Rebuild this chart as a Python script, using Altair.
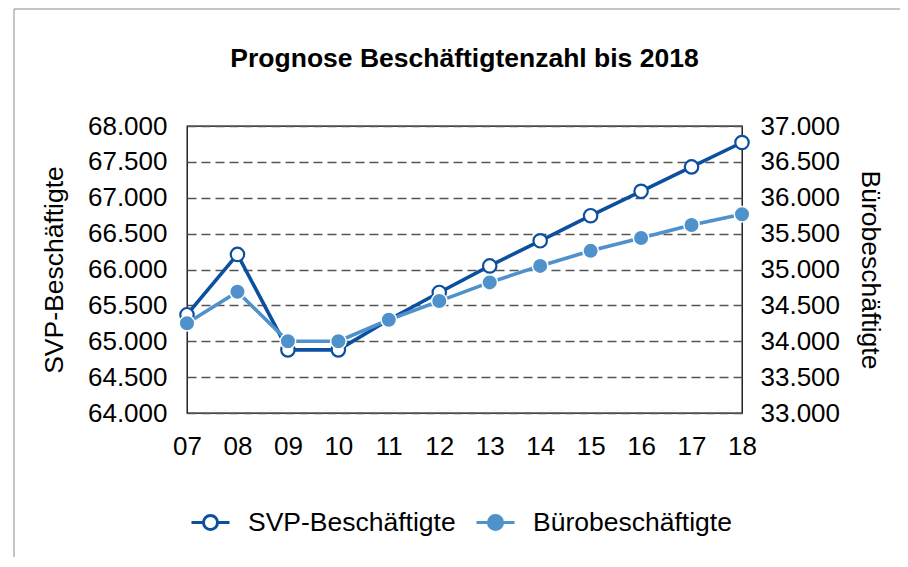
import altair as alt
import pandas as pd

years = ["07", "08", "09", "10", "11", "12", "13", "14", "15", "16", "17", "18"]
svp = [65370, 66210, 64880, 64880, 65300, 65680, 66050, 66400, 66750, 67090, 67430, 67770]
buero = [34250, 34690, 34000, 34000, 34300, 34560, 34820, 35050, 35260, 35440, 35620, 35770]
series_names = ["SVP-Beschäftigte", "Bürobeschäftigte"]

DARK = "#0B4F9E"
LIGHT = "#4F91CB"
FONT = "Liberation Sans"

df_svp = pd.DataFrame({"Jahr": years, "Wert": svp, "Reihe": series_names[0]})
df_buero = pd.DataFrame({"Jahr": years, "Wert": buero, "Reihe": series_names[1]})

lbl = "replace(format(datum.value, ',.0f'), ',', '.')"

x_enc = alt.X("Jahr:N", sort=years, scale=alt.Scale(type="point", padding=0),
              axis=alt.Axis(title=None, labelAngle=0, ticks=False, domain=False,
                            labelPadding=20, labelFontSize=26, grid=False))

y_left = alt.Y("Wert:Q", scale=alt.Scale(domain=[64000, 68000], nice=False, zero=False),
               axis=alt.Axis(title="SVP-Beschäftigte", orient="left", values=list(range(64000, 68001, 500)),
                             labelExpr=lbl, ticks=False, domain=False, labelPadding=20,
                             labelFontSize=26, titleFontSize=26.5, titleFontWeight="normal",
                             titlePadding=19, grid=True, gridDash=[9, 5], gridColor="#555555",
                             gridWidth=1.3))
y_right = alt.Y("Wert:Q", scale=alt.Scale(domain=[33000, 37000], nice=False, zero=False),
                axis=alt.Axis(title="Bürobeschäftigte", orient="right", values=list(range(33000, 37001, 500)),
                              labelExpr=lbl, ticks=False, domain=False, labelPadding=18,
                              labelFontSize=26, titleFontSize=26.5, titleFontWeight="normal",
                              titlePadding=16, grid=False))

stroke_scale = alt.Scale(domain=series_names, range=[DARK, LIGHT])
fill_scale = alt.Scale(domain=series_names, range=["white", LIGHT])

legend = alt.Legend(title=None, orient="none", legendX=3, legendY=376, direction="horizontal",
                    symbolType="M-1,0L-0.37,0M0.37,0L1,0M0.37,0A0.37,0.37,0,1,1,-0.37,0A0.37,0.37,0,1,1,0.37,0Z",
                    symbolSize=1444, symbolStrokeWidth=3, labelFontSize=26.5, labelOffset=17,
                    columnPadding=14, labelLimit=400, labelFont=FONT)

svp_line = alt.Chart(df_svp).mark_line(color=DARK, strokeWidth=3.6).encode(x=x_enc, y=y_left)
svp_pts = alt.Chart(df_svp).mark_point(shape="circle", size=180, strokeWidth=2.2, opacity=1).encode(
    x=x_enc, y=y_left,
    stroke=alt.Stroke("Reihe:N", scale=stroke_scale, legend=legend),
    fill=alt.Fill("Reihe:N", scale=fill_scale, legend=legend),
)
left = alt.layer(svp_line, svp_pts)

b_line = alt.Chart(df_buero).mark_line(color=LIGHT, strokeWidth=3.6).encode(x=x_enc, y=y_right)
b_pts = alt.Chart(df_buero).mark_point(shape="circle", size=240, strokeWidth=1.5, stroke="white", opacity=1).encode(
    x=x_enc, y=y_right,
    fill=alt.Fill("Reihe:N", scale=fill_scale, legend=legend),
)
right = alt.layer(b_line, b_pts)

frame = alt.Chart(pd.DataFrame({"a": [0]})).mark_rect(fill=None, stroke="#8a8a8a", strokeWidth=1, clip=False).encode(
    x=alt.value(-173), x2=alt.value(718), y=alt.value(-117), y2=alt.value(480))

chart = alt.layer(frame, left, right).resolve_scale(y="independent").properties(
    width=555, height=287,
    title=alt.TitleParams("Prognose Beschäftigtenzahl bis 2018", fontSize=26.5, font=FONT,
                          fontWeight="bold", anchor="middle", offset=-64, color="black"),
    autosize=alt.AutoSizeParams(type="none"),
    padding={"left": 179, "top": 118, "right": 158, "bottom": 144},
).configure(font=FONT).configure_view(stroke="black", strokeWidth=1.3).configure_axis(
    labelFont=FONT, titleFont=FONT, labelColor="black", titleColor="black")

chart.save("out.html", embed_options={"renderer": "svg", "actions": False})
